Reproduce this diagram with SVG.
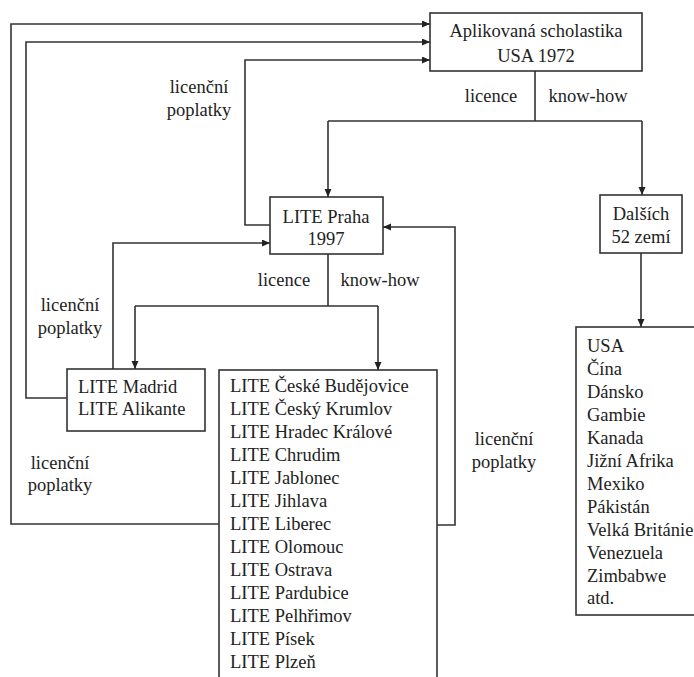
<svg xmlns="http://www.w3.org/2000/svg" width="694" height="677" viewBox="0 0 694 677" font-family="'Liberation Serif', 'Times New Roman', serif" font-size="18.5">
<defs>
<marker id="arr" markerUnits="userSpaceOnUse" markerWidth="9" markerHeight="8" refX="8" refY="3.5" orient="auto">
<path d="M0,0 L8,3.5 L0,7 z" fill="#222"/>
</marker>
<style>
.box{fill:#fff;stroke:#333;stroke-width:1.6}
.ln{fill:none;stroke:#333;stroke-width:1.6}
.ar{fill:none;stroke:#333;stroke-width:1.6;marker-end:url(#arr)}
.c{text-anchor:middle}
</style>
</defs>
<rect width="694" height="677" fill="#fff"/>
<g id="connectors">
<path class="ln" d="M535,71 V121 M328,121 H642"/>
<path class="ar" d="M328,121 V197"/>
<path class="ar" d="M642,121 V195"/>
<path class="ln" d="M328,254 V306 M135,306 H378"/>
<path class="ar" d="M135,306 V369"/>
<path class="ar" d="M378,306 V370"/>
<path class="ar" d="M641,253 V327"/>
<path class="ar" d="M270,225 H245 V60 H430"/>
<path class="ar" d="M67,398 H26 V42 H430"/>
<path class="ar" d="M219,524 H11 V24 H430"/>
<path class="ar" d="M113,369 V243 H270"/>
<path class="ar" d="M437,525 H455 V227 H383"/>
</g>
<g id="labels" fill="#222">
<text x="491" y="102" class="c">licence</text>
<text x="588" y="102" class="c">know-how</text>
<text x="284" y="286" class="c">licence</text>
<text x="380" y="286" class="c">know-how</text>
<text x="199" y="93" class="c">licenční</text>
<text x="199" y="116" class="c">poplatky</text>
<text x="70" y="311" class="c">licenční</text>
<text x="70" y="334" class="c">poplatky</text>
<text x="60" y="469" class="c">licenční</text>
<text x="60" y="491" class="c">poplatky</text>
<text x="504" y="445" class="c">licenční</text>
<text x="504" y="468" class="c">poplatky</text>
</g>
<g id="node-top" fill="#222">
<rect class="box" x="430" y="13" width="212" height="58"/>
<text x="536" y="37" class="c">Aplikovaná scholastika</text>
<text x="536" y="62" class="c">USA 1972</text>
</g>
<g id="node-praha" fill="#222">
<rect class="box" x="270" y="197" width="113" height="57"/>
<text x="326" y="223" class="c">LITE Praha</text>
<text x="326" y="245" class="c">1997</text>
</g>
<g id="node-dalsich" fill="#222">
<rect class="box" x="600" y="195" width="82" height="58"/>
<text x="641" y="220" class="c">Dalších</text>
<text x="641" y="243" class="c">52 zemí</text>
</g>
<g id="node-madrid" fill="#222">
<rect class="box" x="67" y="369" width="138" height="62"/>
<text x="78" y="393">LITE Madrid</text>
<text x="78" y="415">LITE Alikante</text>
</g>
<g id="node-cz" fill="#222">
<rect class="box" x="219" y="370" width="218" height="330"/>
<text x="230" y="392">LITE České Budějovice</text>
<text x="230" y="415">LITE Český Krumlov</text>
<text x="230" y="438">LITE Hradec Králové</text>
<text x="230" y="461">LITE Chrudim</text>
<text x="230" y="484">LITE Jablonec</text>
<text x="230" y="507">LITE Jihlava</text>
<text x="230" y="530">LITE Liberec</text>
<text x="230" y="553">LITE Olomouc</text>
<text x="230" y="576">LITE Ostrava</text>
<text x="230" y="599">LITE Pardubice</text>
<text x="230" y="622">LITE Pelhřimov</text>
<text x="230" y="645">LITE Písek</text>
<text x="230" y="668">LITE Plzeň</text>
</g>
<g id="node-world" fill="#222">
<rect class="box" x="576" y="327" width="140" height="288"/>
<text x="587" y="352">USA</text>
<text x="587" y="375">Čína</text>
<text x="587" y="398">Dánsko</text>
<text x="587" y="421">Gambie</text>
<text x="587" y="444">Kanada</text>
<text x="587" y="467">Jižní Afrika</text>
<text x="587" y="490">Mexiko</text>
<text x="587" y="513">Pákistán</text>
<text x="587" y="536">Velká Británie</text>
<text x="587" y="559">Venezuela</text>
<text x="587" y="582">Zimbabwe</text>
<text x="587" y="604">atd.</text>
</g>
</svg>
